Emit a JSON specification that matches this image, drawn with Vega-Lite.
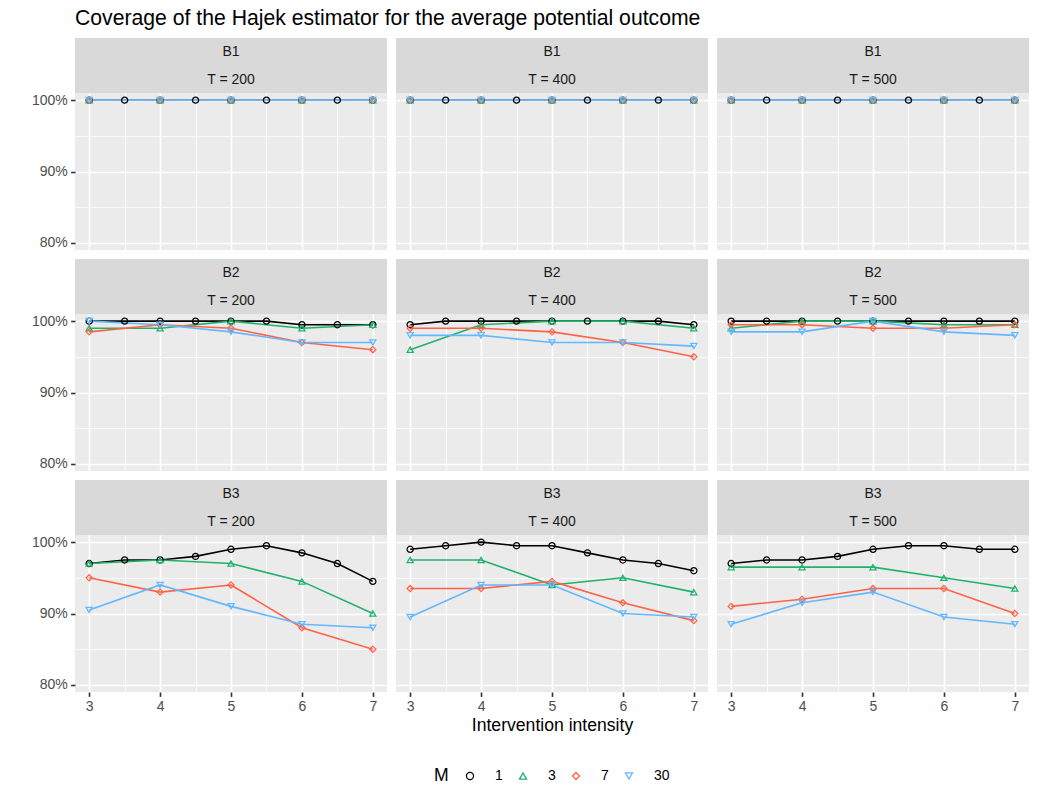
{
  "$schema": "https://vega.github.io/schema/vega-lite/v6.json",
  "padding": {"left": 31, "top": 7, "right": 9, "bottom": 5},
  "title": {"text": "Coverage of the Hajek estimator for the average potential outcome", "anchor": "start", "frame": "group", "fontSize": 21.2, "fontWeight": "normal", "color": "#000000", "font": "Liberation Sans", "offset": 9},
  "datasets": {
    "panels": [
      {"B": "B1", "T": 200, "Tlab": "T = 200"}, {"B": "B1", "T": 400, "Tlab": "T = 400"}, {"B": "B1", "T": 500, "Tlab": "T = 500"},
      {"B": "B2", "T": 200, "Tlab": "T = 200"}, {"B": "B2", "T": 400, "Tlab": "T = 400"}, {"B": "B2", "T": 500, "Tlab": "T = 500"},
      {"B": "B3", "T": 200, "Tlab": "T = 200"}, {"B": "B3", "T": 400, "Tlab": "T = 400"}, {"B": "B3", "T": 500, "Tlab": "T = 500"}
    ],
    "cov": [
      {"B":"B1","T":200,"M":1,"x":3,"y":1},{"B":"B1","T":200,"M":1,"x":3.5,"y":1},{"B":"B1","T":200,"M":1,"x":4,"y":1},{"B":"B1","T":200,"M":1,"x":4.5,"y":1},{"B":"B1","T":200,"M":1,"x":5,"y":1},{"B":"B1","T":200,"M":1,"x":5.5,"y":1},{"B":"B1","T":200,"M":1,"x":6,"y":1},{"B":"B1","T":200,"M":1,"x":6.5,"y":1},{"B":"B1","T":200,"M":1,"x":7,"y":1},
      {"B":"B1","T":200,"M":3,"x":3,"y":1},{"B":"B1","T":200,"M":3,"x":4,"y":1},{"B":"B1","T":200,"M":3,"x":5,"y":1},{"B":"B1","T":200,"M":3,"x":6,"y":1},{"B":"B1","T":200,"M":3,"x":7,"y":1},
      {"B":"B1","T":200,"M":7,"x":3,"y":1},{"B":"B1","T":200,"M":7,"x":4,"y":1},{"B":"B1","T":200,"M":7,"x":5,"y":1},{"B":"B1","T":200,"M":7,"x":6,"y":1},{"B":"B1","T":200,"M":7,"x":7,"y":1},
      {"B":"B1","T":200,"M":30,"x":3,"y":1},{"B":"B1","T":200,"M":30,"x":4,"y":1},{"B":"B1","T":200,"M":30,"x":5,"y":1},{"B":"B1","T":200,"M":30,"x":6,"y":1},{"B":"B1","T":200,"M":30,"x":7,"y":1},

      {"B":"B1","T":400,"M":1,"x":3,"y":1},{"B":"B1","T":400,"M":1,"x":3.5,"y":1},{"B":"B1","T":400,"M":1,"x":4,"y":1},{"B":"B1","T":400,"M":1,"x":4.5,"y":1},{"B":"B1","T":400,"M":1,"x":5,"y":1},{"B":"B1","T":400,"M":1,"x":5.5,"y":1},{"B":"B1","T":400,"M":1,"x":6,"y":1},{"B":"B1","T":400,"M":1,"x":6.5,"y":1},{"B":"B1","T":400,"M":1,"x":7,"y":1},
      {"B":"B1","T":400,"M":3,"x":3,"y":1},{"B":"B1","T":400,"M":3,"x":4,"y":1},{"B":"B1","T":400,"M":3,"x":5,"y":1},{"B":"B1","T":400,"M":3,"x":6,"y":1},{"B":"B1","T":400,"M":3,"x":7,"y":1},
      {"B":"B1","T":400,"M":7,"x":3,"y":1},{"B":"B1","T":400,"M":7,"x":4,"y":1},{"B":"B1","T":400,"M":7,"x":5,"y":1},{"B":"B1","T":400,"M":7,"x":6,"y":1},{"B":"B1","T":400,"M":7,"x":7,"y":1},
      {"B":"B1","T":400,"M":30,"x":3,"y":1},{"B":"B1","T":400,"M":30,"x":4,"y":1},{"B":"B1","T":400,"M":30,"x":5,"y":1},{"B":"B1","T":400,"M":30,"x":6,"y":1},{"B":"B1","T":400,"M":30,"x":7,"y":1},

      {"B":"B1","T":500,"M":1,"x":3,"y":1},{"B":"B1","T":500,"M":1,"x":3.5,"y":1},{"B":"B1","T":500,"M":1,"x":4,"y":1},{"B":"B1","T":500,"M":1,"x":4.5,"y":1},{"B":"B1","T":500,"M":1,"x":5,"y":1},{"B":"B1","T":500,"M":1,"x":5.5,"y":1},{"B":"B1","T":500,"M":1,"x":6,"y":1},{"B":"B1","T":500,"M":1,"x":6.5,"y":1},{"B":"B1","T":500,"M":1,"x":7,"y":1},
      {"B":"B1","T":500,"M":3,"x":3,"y":1},{"B":"B1","T":500,"M":3,"x":4,"y":1},{"B":"B1","T":500,"M":3,"x":5,"y":1},{"B":"B1","T":500,"M":3,"x":6,"y":1},{"B":"B1","T":500,"M":3,"x":7,"y":1},
      {"B":"B1","T":500,"M":7,"x":3,"y":1},{"B":"B1","T":500,"M":7,"x":4,"y":1},{"B":"B1","T":500,"M":7,"x":5,"y":1},{"B":"B1","T":500,"M":7,"x":6,"y":1},{"B":"B1","T":500,"M":7,"x":7,"y":1},
      {"B":"B1","T":500,"M":30,"x":3,"y":1},{"B":"B1","T":500,"M":30,"x":4,"y":1},{"B":"B1","T":500,"M":30,"x":5,"y":1},{"B":"B1","T":500,"M":30,"x":6,"y":1},{"B":"B1","T":500,"M":30,"x":7,"y":1},

      {"B":"B2","T":200,"M":1,"x":3,"y":1},{"B":"B2","T":200,"M":1,"x":3.5,"y":1},{"B":"B2","T":200,"M":1,"x":4,"y":1},{"B":"B2","T":200,"M":1,"x":4.5,"y":1},{"B":"B2","T":200,"M":1,"x":5,"y":1},{"B":"B2","T":200,"M":1,"x":5.5,"y":1},{"B":"B2","T":200,"M":1,"x":6,"y":0.995},{"B":"B2","T":200,"M":1,"x":6.5,"y":0.995},{"B":"B2","T":200,"M":1,"x":7,"y":0.995},
      {"B":"B2","T":200,"M":3,"x":3,"y":0.99},{"B":"B2","T":200,"M":3,"x":4,"y":0.99},{"B":"B2","T":200,"M":3,"x":5,"y":1},{"B":"B2","T":200,"M":3,"x":6,"y":0.99},{"B":"B2","T":200,"M":3,"x":7,"y":0.995},
      {"B":"B2","T":200,"M":7,"x":3,"y":0.985},{"B":"B2","T":200,"M":7,"x":4,"y":0.995},{"B":"B2","T":200,"M":7,"x":5,"y":0.99},{"B":"B2","T":200,"M":7,"x":6,"y":0.97},{"B":"B2","T":200,"M":7,"x":7,"y":0.96},
      {"B":"B2","T":200,"M":30,"x":3,"y":1},{"B":"B2","T":200,"M":30,"x":4,"y":0.995},{"B":"B2","T":200,"M":30,"x":5,"y":0.985},{"B":"B2","T":200,"M":30,"x":6,"y":0.97},{"B":"B2","T":200,"M":30,"x":7,"y":0.97},

      {"B":"B2","T":400,"M":1,"x":3,"y":0.995},{"B":"B2","T":400,"M":1,"x":3.5,"y":1},{"B":"B2","T":400,"M":1,"x":4,"y":1},{"B":"B2","T":400,"M":1,"x":4.5,"y":1},{"B":"B2","T":400,"M":1,"x":5,"y":1},{"B":"B2","T":400,"M":1,"x":5.5,"y":1},{"B":"B2","T":400,"M":1,"x":6,"y":1},{"B":"B2","T":400,"M":1,"x":6.5,"y":1},{"B":"B2","T":400,"M":1,"x":7,"y":0.995},
      {"B":"B2","T":400,"M":3,"x":3,"y":0.96},{"B":"B2","T":400,"M":3,"x":4,"y":0.995},{"B":"B2","T":400,"M":3,"x":5,"y":1},{"B":"B2","T":400,"M":3,"x":6,"y":1},{"B":"B2","T":400,"M":3,"x":7,"y":0.99},
      {"B":"B2","T":400,"M":7,"x":3,"y":0.99},{"B":"B2","T":400,"M":7,"x":4,"y":0.99},{"B":"B2","T":400,"M":7,"x":5,"y":0.985},{"B":"B2","T":400,"M":7,"x":6,"y":0.97},{"B":"B2","T":400,"M":7,"x":7,"y":0.95},
      {"B":"B2","T":400,"M":30,"x":3,"y":0.98},{"B":"B2","T":400,"M":30,"x":4,"y":0.98},{"B":"B2","T":400,"M":30,"x":5,"y":0.97},{"B":"B2","T":400,"M":30,"x":6,"y":0.97},{"B":"B2","T":400,"M":30,"x":7,"y":0.965},

      {"B":"B2","T":500,"M":1,"x":3,"y":1},{"B":"B2","T":500,"M":1,"x":3.5,"y":1},{"B":"B2","T":500,"M":1,"x":4,"y":1},{"B":"B2","T":500,"M":1,"x":4.5,"y":1},{"B":"B2","T":500,"M":1,"x":5,"y":1},{"B":"B2","T":500,"M":1,"x":5.5,"y":1},{"B":"B2","T":500,"M":1,"x":6,"y":1},{"B":"B2","T":500,"M":1,"x":6.5,"y":1},{"B":"B2","T":500,"M":1,"x":7,"y":1},
      {"B":"B2","T":500,"M":3,"x":3,"y":0.99},{"B":"B2","T":500,"M":3,"x":4,"y":1},{"B":"B2","T":500,"M":3,"x":5,"y":1},{"B":"B2","T":500,"M":3,"x":6,"y":0.995},{"B":"B2","T":500,"M":3,"x":7,"y":0.995},
      {"B":"B2","T":500,"M":7,"x":3,"y":0.995},{"B":"B2","T":500,"M":7,"x":4,"y":0.995},{"B":"B2","T":500,"M":7,"x":5,"y":0.99},{"B":"B2","T":500,"M":7,"x":6,"y":0.99},{"B":"B2","T":500,"M":7,"x":7,"y":0.995},
      {"B":"B2","T":500,"M":30,"x":3,"y":0.985},{"B":"B2","T":500,"M":30,"x":4,"y":0.985},{"B":"B2","T":500,"M":30,"x":5,"y":1},{"B":"B2","T":500,"M":30,"x":6,"y":0.985},{"B":"B2","T":500,"M":30,"x":7,"y":0.98},

      {"B":"B3","T":200,"M":1,"x":3,"y":0.97},{"B":"B3","T":200,"M":1,"x":3.5,"y":0.975},{"B":"B3","T":200,"M":1,"x":4,"y":0.975},{"B":"B3","T":200,"M":1,"x":4.5,"y":0.98},{"B":"B3","T":200,"M":1,"x":5,"y":0.99},{"B":"B3","T":200,"M":1,"x":5.5,"y":0.995},{"B":"B3","T":200,"M":1,"x":6,"y":0.985},{"B":"B3","T":200,"M":1,"x":6.5,"y":0.97},{"B":"B3","T":200,"M":1,"x":7,"y":0.945},
      {"B":"B3","T":200,"M":3,"x":3,"y":0.97},{"B":"B3","T":200,"M":3,"x":4,"y":0.975},{"B":"B3","T":200,"M":3,"x":5,"y":0.97},{"B":"B3","T":200,"M":3,"x":6,"y":0.945},{"B":"B3","T":200,"M":3,"x":7,"y":0.90},
      {"B":"B3","T":200,"M":7,"x":3,"y":0.95},{"B":"B3","T":200,"M":7,"x":4,"y":0.93},{"B":"B3","T":200,"M":7,"x":5,"y":0.94},{"B":"B3","T":200,"M":7,"x":6,"y":0.88},{"B":"B3","T":200,"M":7,"x":7,"y":0.85},
      {"B":"B3","T":200,"M":30,"x":3,"y":0.905},{"B":"B3","T":200,"M":30,"x":4,"y":0.94},{"B":"B3","T":200,"M":30,"x":5,"y":0.91},{"B":"B3","T":200,"M":30,"x":6,"y":0.885},{"B":"B3","T":200,"M":30,"x":7,"y":0.88},

      {"B":"B3","T":400,"M":1,"x":3,"y":0.99},{"B":"B3","T":400,"M":1,"x":3.5,"y":0.995},{"B":"B3","T":400,"M":1,"x":4,"y":1},{"B":"B3","T":400,"M":1,"x":4.5,"y":0.995},{"B":"B3","T":400,"M":1,"x":5,"y":0.995},{"B":"B3","T":400,"M":1,"x":5.5,"y":0.985},{"B":"B3","T":400,"M":1,"x":6,"y":0.975},{"B":"B3","T":400,"M":1,"x":6.5,"y":0.97},{"B":"B3","T":400,"M":1,"x":7,"y":0.96},
      {"B":"B3","T":400,"M":3,"x":3,"y":0.975},{"B":"B3","T":400,"M":3,"x":4,"y":0.975},{"B":"B3","T":400,"M":3,"x":5,"y":0.94},{"B":"B3","T":400,"M":3,"x":6,"y":0.95},{"B":"B3","T":400,"M":3,"x":7,"y":0.93},
      {"B":"B3","T":400,"M":7,"x":3,"y":0.935},{"B":"B3","T":400,"M":7,"x":4,"y":0.935},{"B":"B3","T":400,"M":7,"x":5,"y":0.945},{"B":"B3","T":400,"M":7,"x":6,"y":0.915},{"B":"B3","T":400,"M":7,"x":7,"y":0.89},
      {"B":"B3","T":400,"M":30,"x":3,"y":0.895},{"B":"B3","T":400,"M":30,"x":4,"y":0.94},{"B":"B3","T":400,"M":30,"x":5,"y":0.94},{"B":"B3","T":400,"M":30,"x":6,"y":0.90},{"B":"B3","T":400,"M":30,"x":7,"y":0.895},

      {"B":"B3","T":500,"M":1,"x":3,"y":0.97},{"B":"B3","T":500,"M":1,"x":3.5,"y":0.975},{"B":"B3","T":500,"M":1,"x":4,"y":0.975},{"B":"B3","T":500,"M":1,"x":4.5,"y":0.98},{"B":"B3","T":500,"M":1,"x":5,"y":0.99},{"B":"B3","T":500,"M":1,"x":5.5,"y":0.995},{"B":"B3","T":500,"M":1,"x":6,"y":0.995},{"B":"B3","T":500,"M":1,"x":6.5,"y":0.99},{"B":"B3","T":500,"M":1,"x":7,"y":0.99},
      {"B":"B3","T":500,"M":3,"x":3,"y":0.965},{"B":"B3","T":500,"M":3,"x":4,"y":0.965},{"B":"B3","T":500,"M":3,"x":5,"y":0.965},{"B":"B3","T":500,"M":3,"x":6,"y":0.95},{"B":"B3","T":500,"M":3,"x":7,"y":0.935},
      {"B":"B3","T":500,"M":7,"x":3,"y":0.91},{"B":"B3","T":500,"M":7,"x":4,"y":0.92},{"B":"B3","T":500,"M":7,"x":5,"y":0.935},{"B":"B3","T":500,"M":7,"x":6,"y":0.935},{"B":"B3","T":500,"M":7,"x":7,"y":0.90},
      {"B":"B3","T":500,"M":30,"x":3,"y":0.885},{"B":"B3","T":500,"M":30,"x":4,"y":0.915},{"B":"B3","T":500,"M":30,"x":5,"y":0.93},{"B":"B3","T":500,"M":30,"x":6,"y":0.895},{"B":"B3","T":500,"M":30,"x":7,"y":0.885}
    ]
  },
  "data": {"name": "cov"},
  "spacing": 9,
  "vconcat": [
    {
      "columns": 3, "spacing": {"row": 0, "column": 9}, "bounds": "flush",
      "concat": [
        {"width": 312, "height": 55, "data": {"name": "panels"}, "view": {"fill": "#D9D9D9", "stroke": null}, "transform": [{"filter": "datum.B == 'B1' && datum.T == 200"}],
         "layer": [{"mark": {"type": "text", "dy": -13.5, "fontSize": 14, "color": "#1A1A1A"}, "encoding": {"text": {"field": "B", "type": "nominal"}}},
                   {"mark": {"type": "text", "dy": 14.5, "fontSize": 14, "color": "#1A1A1A"}, "encoding": {"text": {"field": "Tlab", "type": "nominal"}}}]},
        {"width": 312, "height": 55, "data": {"name": "panels"}, "view": {"fill": "#D9D9D9", "stroke": null}, "transform": [{"filter": "datum.B == 'B1' && datum.T == 400"}],
         "layer": [{"mark": {"type": "text", "dy": -13.5, "fontSize": 14, "color": "#1A1A1A"}, "encoding": {"text": {"field": "B", "type": "nominal"}}},
                   {"mark": {"type": "text", "dy": 14.5, "fontSize": 14, "color": "#1A1A1A"}, "encoding": {"text": {"field": "Tlab", "type": "nominal"}}}]},
        {"width": 312, "height": 55, "data": {"name": "panels"}, "view": {"fill": "#D9D9D9", "stroke": null}, "transform": [{"filter": "datum.B == 'B1' && datum.T == 500"}],
         "layer": [{"mark": {"type": "text", "dy": -13.5, "fontSize": 14, "color": "#1A1A1A"}, "encoding": {"text": {"field": "B", "type": "nominal"}}},
                   {"mark": {"type": "text", "dy": 14.5, "fontSize": 14, "color": "#1A1A1A"}, "encoding": {"text": {"field": "Tlab", "type": "nominal"}}}]},
        {"width": 312, "height": 157, "view": {"fill": "#EBEBEB", "stroke": null}, "transform": [{"filter": "datum.B == 'B1' && datum.T == 200"}],
         "encoding": {"color": {"field": "M", "type": "ordinal", "title": "M", "scale": {"domain": [1, 3, 7, 30], "range": ["#000000", "#20B26C", "#FF6347", "#63B8FF"]},
            "legend": {"orient": "none", "legendX": 359, "legendY": 731, "direction": "horizontal", "titleOrient": "left"}}},
         "layer": [
           {"mark": {"type": "line", "strokeWidth": 1.6},
            "encoding": {"x": {"field": "x", "type": "quantitative", "scale": {"domain": [2.8, 7.2], "nice": false, "zero": false}, "axis": {"orient": "top", "values": [3.5, 4.5, 5.5, 6.5], "grid": true, "gridWidth": 0.8, "labels": false, "ticks": false, "domain": false, "title": null}},
                         "y": {"field": "y", "type": "quantitative", "scale": {"domain": [0.79, 1.01], "nice": false, "zero": false}, "axis": {"orient": "right", "values": [0.85, 0.95], "grid": true, "gridWidth": 0.8, "labels": false, "ticks": false, "domain": false, "title": null}}}},
           {"mark": {"type": "point", "filled": false, "size": 38, "strokeWidth": 1.25, "opacity": 1},
            "encoding": {"x": {"field": "x", "type": "quantitative", "scale": {"domain": [2.8, 7.2], "nice": false, "zero": false}, "axis": {"values": [3, 4, 5, 6, 7], "grid": true, "labels": false, "ticks": false, "title": null}},
                         "y": {"field": "y", "type": "quantitative", "scale": {"domain": [0.79, 1.01], "nice": false, "zero": false}, "axis": {"values": [0.8, 0.9, 1], "format": ".0%", "grid": true, "title": null}},
                         "shape": {"field": "M", "type": "ordinal", "scale": {"domain": [1, 3, 7, 30], "range": ["circle", "triangle-up", "diamond", "triangle-down"]}, "legend": null}}}
         ],
         "resolve": {"axis": {"x": "independent", "y": "independent"}}},
        {"width": 312, "height": 157, "view": {"fill": "#EBEBEB", "stroke": null}, "transform": [{"filter": "datum.B == 'B1' && datum.T == 400"}],
         "encoding": {"color": {"field": "M", "type": "ordinal", "title": "M", "scale": {"domain": [1, 3, 7, 30], "range": ["#000000", "#20B26C", "#FF6347", "#63B8FF"]}}},
         "layer": [
           {"mark": {"type": "line", "strokeWidth": 1.6},
            "encoding": {"x": {"field": "x", "type": "quantitative", "scale": {"domain": [2.8, 7.2], "nice": false, "zero": false}, "axis": {"orient": "top", "values": [3.5, 4.5, 5.5, 6.5], "grid": true, "gridWidth": 0.8, "labels": false, "ticks": false, "domain": false, "title": null}},
                         "y": {"field": "y", "type": "quantitative", "scale": {"domain": [0.79, 1.01], "nice": false, "zero": false}, "axis": {"orient": "right", "values": [0.85, 0.95], "grid": true, "gridWidth": 0.8, "labels": false, "ticks": false, "domain": false, "title": null}}}},
           {"mark": {"type": "point", "filled": false, "size": 38, "strokeWidth": 1.25, "opacity": 1},
            "encoding": {"x": {"field": "x", "type": "quantitative", "scale": {"domain": [2.8, 7.2], "nice": false, "zero": false}, "axis": {"values": [3, 4, 5, 6, 7], "grid": true, "labels": false, "ticks": false, "title": null}},
                         "y": {"field": "y", "type": "quantitative", "scale": {"domain": [0.79, 1.01], "nice": false, "zero": false}, "axis": {"values": [0.8, 0.9, 1], "grid": true, "labels": false, "ticks": false, "title": null}},
                         "shape": {"field": "M", "type": "ordinal", "scale": {"domain": [1, 3, 7, 30], "range": ["circle", "triangle-up", "diamond", "triangle-down"]}, "legend": null}}}
         ],
         "resolve": {"axis": {"x": "independent", "y": "independent"}}},
        {"width": 312, "height": 157, "view": {"fill": "#EBEBEB", "stroke": null}, "transform": [{"filter": "datum.B == 'B1' && datum.T == 500"}],
         "encoding": {"color": {"field": "M", "type": "ordinal", "title": "M", "scale": {"domain": [1, 3, 7, 30], "range": ["#000000", "#20B26C", "#FF6347", "#63B8FF"]}}},
         "layer": [
           {"mark": {"type": "line", "strokeWidth": 1.6},
            "encoding": {"x": {"field": "x", "type": "quantitative", "scale": {"domain": [2.8, 7.2], "nice": false, "zero": false}, "axis": {"orient": "top", "values": [3.5, 4.5, 5.5, 6.5], "grid": true, "gridWidth": 0.8, "labels": false, "ticks": false, "domain": false, "title": null}},
                         "y": {"field": "y", "type": "quantitative", "scale": {"domain": [0.79, 1.01], "nice": false, "zero": false}, "axis": {"orient": "right", "values": [0.85, 0.95], "grid": true, "gridWidth": 0.8, "labels": false, "ticks": false, "domain": false, "title": null}}}},
           {"mark": {"type": "point", "filled": false, "size": 38, "strokeWidth": 1.25, "opacity": 1},
            "encoding": {"x": {"field": "x", "type": "quantitative", "scale": {"domain": [2.8, 7.2], "nice": false, "zero": false}, "axis": {"values": [3, 4, 5, 6, 7], "grid": true, "labels": false, "ticks": false, "title": null}},
                         "y": {"field": "y", "type": "quantitative", "scale": {"domain": [0.79, 1.01], "nice": false, "zero": false}, "axis": {"values": [0.8, 0.9, 1], "grid": true, "labels": false, "ticks": false, "title": null}},
                         "shape": {"field": "M", "type": "ordinal", "scale": {"domain": [1, 3, 7, 30], "range": ["circle", "triangle-up", "diamond", "triangle-down"]}, "legend": null}}}
         ],
         "resolve": {"axis": {"x": "independent", "y": "independent"}}}
      ]
    },
    {
      "columns": 3, "spacing": {"row": 0, "column": 9}, "bounds": "flush",
      "concat": [
        {"width": 312, "height": 55, "data": {"name": "panels"}, "view": {"fill": "#D9D9D9", "stroke": null}, "transform": [{"filter": "datum.B == 'B2' && datum.T == 200"}],
         "layer": [{"mark": {"type": "text", "dy": -13.5, "fontSize": 14, "color": "#1A1A1A"}, "encoding": {"text": {"field": "B", "type": "nominal"}}},
                   {"mark": {"type": "text", "dy": 14.5, "fontSize": 14, "color": "#1A1A1A"}, "encoding": {"text": {"field": "Tlab", "type": "nominal"}}}]},
        {"width": 312, "height": 55, "data": {"name": "panels"}, "view": {"fill": "#D9D9D9", "stroke": null}, "transform": [{"filter": "datum.B == 'B2' && datum.T == 400"}],
         "layer": [{"mark": {"type": "text", "dy": -13.5, "fontSize": 14, "color": "#1A1A1A"}, "encoding": {"text": {"field": "B", "type": "nominal"}}},
                   {"mark": {"type": "text", "dy": 14.5, "fontSize": 14, "color": "#1A1A1A"}, "encoding": {"text": {"field": "Tlab", "type": "nominal"}}}]},
        {"width": 312, "height": 55, "data": {"name": "panels"}, "view": {"fill": "#D9D9D9", "stroke": null}, "transform": [{"filter": "datum.B == 'B2' && datum.T == 500"}],
         "layer": [{"mark": {"type": "text", "dy": -13.5, "fontSize": 14, "color": "#1A1A1A"}, "encoding": {"text": {"field": "B", "type": "nominal"}}},
                   {"mark": {"type": "text", "dy": 14.5, "fontSize": 14, "color": "#1A1A1A"}, "encoding": {"text": {"field": "Tlab", "type": "nominal"}}}]},
        {"width": 312, "height": 157, "view": {"fill": "#EBEBEB", "stroke": null}, "transform": [{"filter": "datum.B == 'B2' && datum.T == 200"}],
         "encoding": {"color": {"field": "M", "type": "ordinal", "title": "M", "scale": {"domain": [1, 3, 7, 30], "range": ["#000000", "#20B26C", "#FF6347", "#63B8FF"]}}},
         "layer": [
           {"mark": {"type": "line", "strokeWidth": 1.6},
            "encoding": {"x": {"field": "x", "type": "quantitative", "scale": {"domain": [2.8, 7.2], "nice": false, "zero": false}, "axis": {"orient": "top", "values": [3.5, 4.5, 5.5, 6.5], "grid": true, "gridWidth": 0.8, "labels": false, "ticks": false, "domain": false, "title": null}},
                         "y": {"field": "y", "type": "quantitative", "scale": {"domain": [0.79, 1.01], "nice": false, "zero": false}, "axis": {"orient": "right", "values": [0.85, 0.95], "grid": true, "gridWidth": 0.8, "labels": false, "ticks": false, "domain": false, "title": null}}}},
           {"mark": {"type": "point", "filled": false, "size": 38, "strokeWidth": 1.25, "opacity": 1},
            "encoding": {"x": {"field": "x", "type": "quantitative", "scale": {"domain": [2.8, 7.2], "nice": false, "zero": false}, "axis": {"values": [3, 4, 5, 6, 7], "grid": true, "labels": false, "ticks": false, "title": null}},
                         "y": {"field": "y", "type": "quantitative", "scale": {"domain": [0.79, 1.01], "nice": false, "zero": false}, "axis": {"values": [0.8, 0.9, 1], "format": ".0%", "grid": true, "title": null}},
                         "shape": {"field": "M", "type": "ordinal", "scale": {"domain": [1, 3, 7, 30], "range": ["circle", "triangle-up", "diamond", "triangle-down"]}, "legend": null}}}
         ],
         "resolve": {"axis": {"x": "independent", "y": "independent"}}},
        {"width": 312, "height": 157, "view": {"fill": "#EBEBEB", "stroke": null}, "transform": [{"filter": "datum.B == 'B2' && datum.T == 400"}],
         "encoding": {"color": {"field": "M", "type": "ordinal", "title": "M", "scale": {"domain": [1, 3, 7, 30], "range": ["#000000", "#20B26C", "#FF6347", "#63B8FF"]}}},
         "layer": [
           {"mark": {"type": "line", "strokeWidth": 1.6},
            "encoding": {"x": {"field": "x", "type": "quantitative", "scale": {"domain": [2.8, 7.2], "nice": false, "zero": false}, "axis": {"orient": "top", "values": [3.5, 4.5, 5.5, 6.5], "grid": true, "gridWidth": 0.8, "labels": false, "ticks": false, "domain": false, "title": null}},
                         "y": {"field": "y", "type": "quantitative", "scale": {"domain": [0.79, 1.01], "nice": false, "zero": false}, "axis": {"orient": "right", "values": [0.85, 0.95], "grid": true, "gridWidth": 0.8, "labels": false, "ticks": false, "domain": false, "title": null}}}},
           {"mark": {"type": "point", "filled": false, "size": 38, "strokeWidth": 1.25, "opacity": 1},
            "encoding": {"x": {"field": "x", "type": "quantitative", "scale": {"domain": [2.8, 7.2], "nice": false, "zero": false}, "axis": {"values": [3, 4, 5, 6, 7], "grid": true, "labels": false, "ticks": false, "title": null}},
                         "y": {"field": "y", "type": "quantitative", "scale": {"domain": [0.79, 1.01], "nice": false, "zero": false}, "axis": {"values": [0.8, 0.9, 1], "grid": true, "labels": false, "ticks": false, "title": null}},
                         "shape": {"field": "M", "type": "ordinal", "scale": {"domain": [1, 3, 7, 30], "range": ["circle", "triangle-up", "diamond", "triangle-down"]}, "legend": null}}}
         ],
         "resolve": {"axis": {"x": "independent", "y": "independent"}}},
        {"width": 312, "height": 157, "view": {"fill": "#EBEBEB", "stroke": null}, "transform": [{"filter": "datum.B == 'B2' && datum.T == 500"}],
         "encoding": {"color": {"field": "M", "type": "ordinal", "title": "M", "scale": {"domain": [1, 3, 7, 30], "range": ["#000000", "#20B26C", "#FF6347", "#63B8FF"]}}},
         "layer": [
           {"mark": {"type": "line", "strokeWidth": 1.6},
            "encoding": {"x": {"field": "x", "type": "quantitative", "scale": {"domain": [2.8, 7.2], "nice": false, "zero": false}, "axis": {"orient": "top", "values": [3.5, 4.5, 5.5, 6.5], "grid": true, "gridWidth": 0.8, "labels": false, "ticks": false, "domain": false, "title": null}},
                         "y": {"field": "y", "type": "quantitative", "scale": {"domain": [0.79, 1.01], "nice": false, "zero": false}, "axis": {"orient": "right", "values": [0.85, 0.95], "grid": true, "gridWidth": 0.8, "labels": false, "ticks": false, "domain": false, "title": null}}}},
           {"mark": {"type": "point", "filled": false, "size": 38, "strokeWidth": 1.25, "opacity": 1},
            "encoding": {"x": {"field": "x", "type": "quantitative", "scale": {"domain": [2.8, 7.2], "nice": false, "zero": false}, "axis": {"values": [3, 4, 5, 6, 7], "grid": true, "labels": false, "ticks": false, "title": null}},
                         "y": {"field": "y", "type": "quantitative", "scale": {"domain": [0.79, 1.01], "nice": false, "zero": false}, "axis": {"values": [0.8, 0.9, 1], "grid": true, "labels": false, "ticks": false, "title": null}},
                         "shape": {"field": "M", "type": "ordinal", "scale": {"domain": [1, 3, 7, 30], "range": ["circle", "triangle-up", "diamond", "triangle-down"]}, "legend": null}}}
         ],
         "resolve": {"axis": {"x": "independent", "y": "independent"}}}
      ]
    },
    {
      "columns": 3, "spacing": {"row": 0, "column": 9}, "bounds": "flush",
      "concat": [
        {"width": 312, "height": 55, "data": {"name": "panels"}, "view": {"fill": "#D9D9D9", "stroke": null}, "transform": [{"filter": "datum.B == 'B3' && datum.T == 200"}],
         "layer": [{"mark": {"type": "text", "dy": -13.5, "fontSize": 14, "color": "#1A1A1A"}, "encoding": {"text": {"field": "B", "type": "nominal"}}},
                   {"mark": {"type": "text", "dy": 14.5, "fontSize": 14, "color": "#1A1A1A"}, "encoding": {"text": {"field": "Tlab", "type": "nominal"}}}]},
        {"width": 312, "height": 55, "data": {"name": "panels"}, "view": {"fill": "#D9D9D9", "stroke": null}, "transform": [{"filter": "datum.B == 'B3' && datum.T == 400"}],
         "layer": [{"mark": {"type": "text", "dy": -13.5, "fontSize": 14, "color": "#1A1A1A"}, "encoding": {"text": {"field": "B", "type": "nominal"}}},
                   {"mark": {"type": "text", "dy": 14.5, "fontSize": 14, "color": "#1A1A1A"}, "encoding": {"text": {"field": "Tlab", "type": "nominal"}}}]},
        {"width": 312, "height": 55, "data": {"name": "panels"}, "view": {"fill": "#D9D9D9", "stroke": null}, "transform": [{"filter": "datum.B == 'B3' && datum.T == 500"}],
         "layer": [{"mark": {"type": "text", "dy": -13.5, "fontSize": 14, "color": "#1A1A1A"}, "encoding": {"text": {"field": "B", "type": "nominal"}}},
                   {"mark": {"type": "text", "dy": 14.5, "fontSize": 14, "color": "#1A1A1A"}, "encoding": {"text": {"field": "Tlab", "type": "nominal"}}}]},
        {"width": 312, "height": 157, "view": {"fill": "#EBEBEB", "stroke": null}, "transform": [{"filter": "datum.B == 'B3' && datum.T == 200"}],
         "encoding": {"color": {"field": "M", "type": "ordinal", "title": "M", "scale": {"domain": [1, 3, 7, 30], "range": ["#000000", "#20B26C", "#FF6347", "#63B8FF"]}}},
         "layer": [
           {"mark": {"type": "line", "strokeWidth": 1.6},
            "encoding": {"x": {"field": "x", "type": "quantitative", "scale": {"domain": [2.8, 7.2], "nice": false, "zero": false}, "axis": {"orient": "top", "values": [3.5, 4.5, 5.5, 6.5], "grid": true, "gridWidth": 0.8, "labels": false, "ticks": false, "domain": false, "title": null}},
                         "y": {"field": "y", "type": "quantitative", "scale": {"domain": [0.79, 1.01], "nice": false, "zero": false}, "axis": {"orient": "right", "values": [0.85, 0.95], "grid": true, "gridWidth": 0.8, "labels": false, "ticks": false, "domain": false, "title": null}}}},
           {"mark": {"type": "point", "filled": false, "size": 38, "strokeWidth": 1.25, "opacity": 1},
            "encoding": {"x": {"field": "x", "type": "quantitative", "scale": {"domain": [2.8, 7.2], "nice": false, "zero": false}, "axis": {"values": [3, 4, 5, 6, 7], "format": "d", "grid": true, "title": null}},
                         "y": {"field": "y", "type": "quantitative", "scale": {"domain": [0.79, 1.01], "nice": false, "zero": false}, "axis": {"values": [0.8, 0.9, 1], "format": ".0%", "grid": true, "title": null}},
                         "shape": {"field": "M", "type": "ordinal", "scale": {"domain": [1, 3, 7, 30], "range": ["circle", "triangle-up", "diamond", "triangle-down"]}, "legend": null}}}
         ],
         "resolve": {"axis": {"x": "independent", "y": "independent"}}},
        {"width": 312, "height": 157, "view": {"fill": "#EBEBEB", "stroke": null}, "transform": [{"filter": "datum.B == 'B3' && datum.T == 400"}],
         "encoding": {"color": {"field": "M", "type": "ordinal", "title": "M", "scale": {"domain": [1, 3, 7, 30], "range": ["#000000", "#20B26C", "#FF6347", "#63B8FF"]}}},
         "layer": [
           {"mark": {"type": "line", "strokeWidth": 1.6},
            "encoding": {"x": {"field": "x", "type": "quantitative", "scale": {"domain": [2.8, 7.2], "nice": false, "zero": false}, "axis": {"orient": "top", "values": [3.5, 4.5, 5.5, 6.5], "grid": true, "gridWidth": 0.8, "labels": false, "ticks": false, "domain": false, "title": null}},
                         "y": {"field": "y", "type": "quantitative", "scale": {"domain": [0.79, 1.01], "nice": false, "zero": false}, "axis": {"orient": "right", "values": [0.85, 0.95], "grid": true, "gridWidth": 0.8, "labels": false, "ticks": false, "domain": false, "title": null}}}},
           {"mark": {"type": "point", "filled": false, "size": 38, "strokeWidth": 1.25, "opacity": 1},
            "encoding": {"x": {"field": "x", "type": "quantitative", "scale": {"domain": [2.8, 7.2], "nice": false, "zero": false}, "axis": {"values": [3, 4, 5, 6, 7], "format": "d", "grid": true, "title": "Intervention intensity", "titlePadding": 3}},
                         "y": {"field": "y", "type": "quantitative", "scale": {"domain": [0.79, 1.01], "nice": false, "zero": false}, "axis": {"values": [0.8, 0.9, 1], "grid": true, "labels": false, "ticks": false, "title": null}},
                         "shape": {"field": "M", "type": "ordinal", "scale": {"domain": [1, 3, 7, 30], "range": ["circle", "triangle-up", "diamond", "triangle-down"]}, "legend": null}}}
         ],
         "resolve": {"axis": {"x": "independent", "y": "independent"}}},
        {"width": 312, "height": 157, "view": {"fill": "#EBEBEB", "stroke": null}, "transform": [{"filter": "datum.B == 'B3' && datum.T == 500"}],
         "encoding": {"color": {"field": "M", "type": "ordinal", "title": "M", "scale": {"domain": [1, 3, 7, 30], "range": ["#000000", "#20B26C", "#FF6347", "#63B8FF"]}}},
         "layer": [
           {"mark": {"type": "line", "strokeWidth": 1.6},
            "encoding": {"x": {"field": "x", "type": "quantitative", "scale": {"domain": [2.8, 7.2], "nice": false, "zero": false}, "axis": {"orient": "top", "values": [3.5, 4.5, 5.5, 6.5], "grid": true, "gridWidth": 0.8, "labels": false, "ticks": false, "domain": false, "title": null}},
                         "y": {"field": "y", "type": "quantitative", "scale": {"domain": [0.79, 1.01], "nice": false, "zero": false}, "axis": {"orient": "right", "values": [0.85, 0.95], "grid": true, "gridWidth": 0.8, "labels": false, "ticks": false, "domain": false, "title": null}}}},
           {"mark": {"type": "point", "filled": false, "size": 38, "strokeWidth": 1.25, "opacity": 1},
            "encoding": {"x": {"field": "x", "type": "quantitative", "scale": {"domain": [2.8, 7.2], "nice": false, "zero": false}, "axis": {"values": [3, 4, 5, 6, 7], "format": "d", "grid": true, "title": null}},
                         "y": {"field": "y", "type": "quantitative", "scale": {"domain": [0.79, 1.01], "nice": false, "zero": false}, "axis": {"values": [0.8, 0.9, 1], "grid": true, "labels": false, "ticks": false, "title": null}},
                         "shape": {"field": "M", "type": "ordinal", "scale": {"domain": [1, 3, 7, 30], "range": ["circle", "triangle-up", "diamond", "triangle-down"]}, "legend": null}}}
         ],
         "resolve": {"axis": {"x": "independent", "y": "independent"}}}
      ]
    }
  ],
  "config": {
    "font": "Liberation Sans",
    "view": {"stroke": null},
    "axis": {"labelFont": "Liberation Sans", "labelFontSize": 14, "labelColor": "#4D4D4D", "tickColor": "#333333", "tickSize": 4.4, "tickWidth": 1.6, "labelPadding": 3.3, "domain": false, "gridColor": "#FFFFFF", "gridWidth": 1.6, "titleFont": "Liberation Sans", "titleFontWeight": "normal", "titleFontSize": 17.6, "titleColor": "#000000"},
    "legend": {"titleFont": "Liberation Sans", "titleFontSize": 17.6, "titleFontWeight": "normal", "titleColor": "#000000", "labelFont": "Liberation Sans", "labelFontSize": 14, "labelColor": "#000000", "symbolSize": 50, "symbolStrokeWidth": 1.3, "labelOffset": 18, "columnPadding": 13, "titlePadding": 14, "titleAnchor": "middle", "titleBaseline": "middle"},
    "text": {"font": "Liberation Sans"}
  }
}
